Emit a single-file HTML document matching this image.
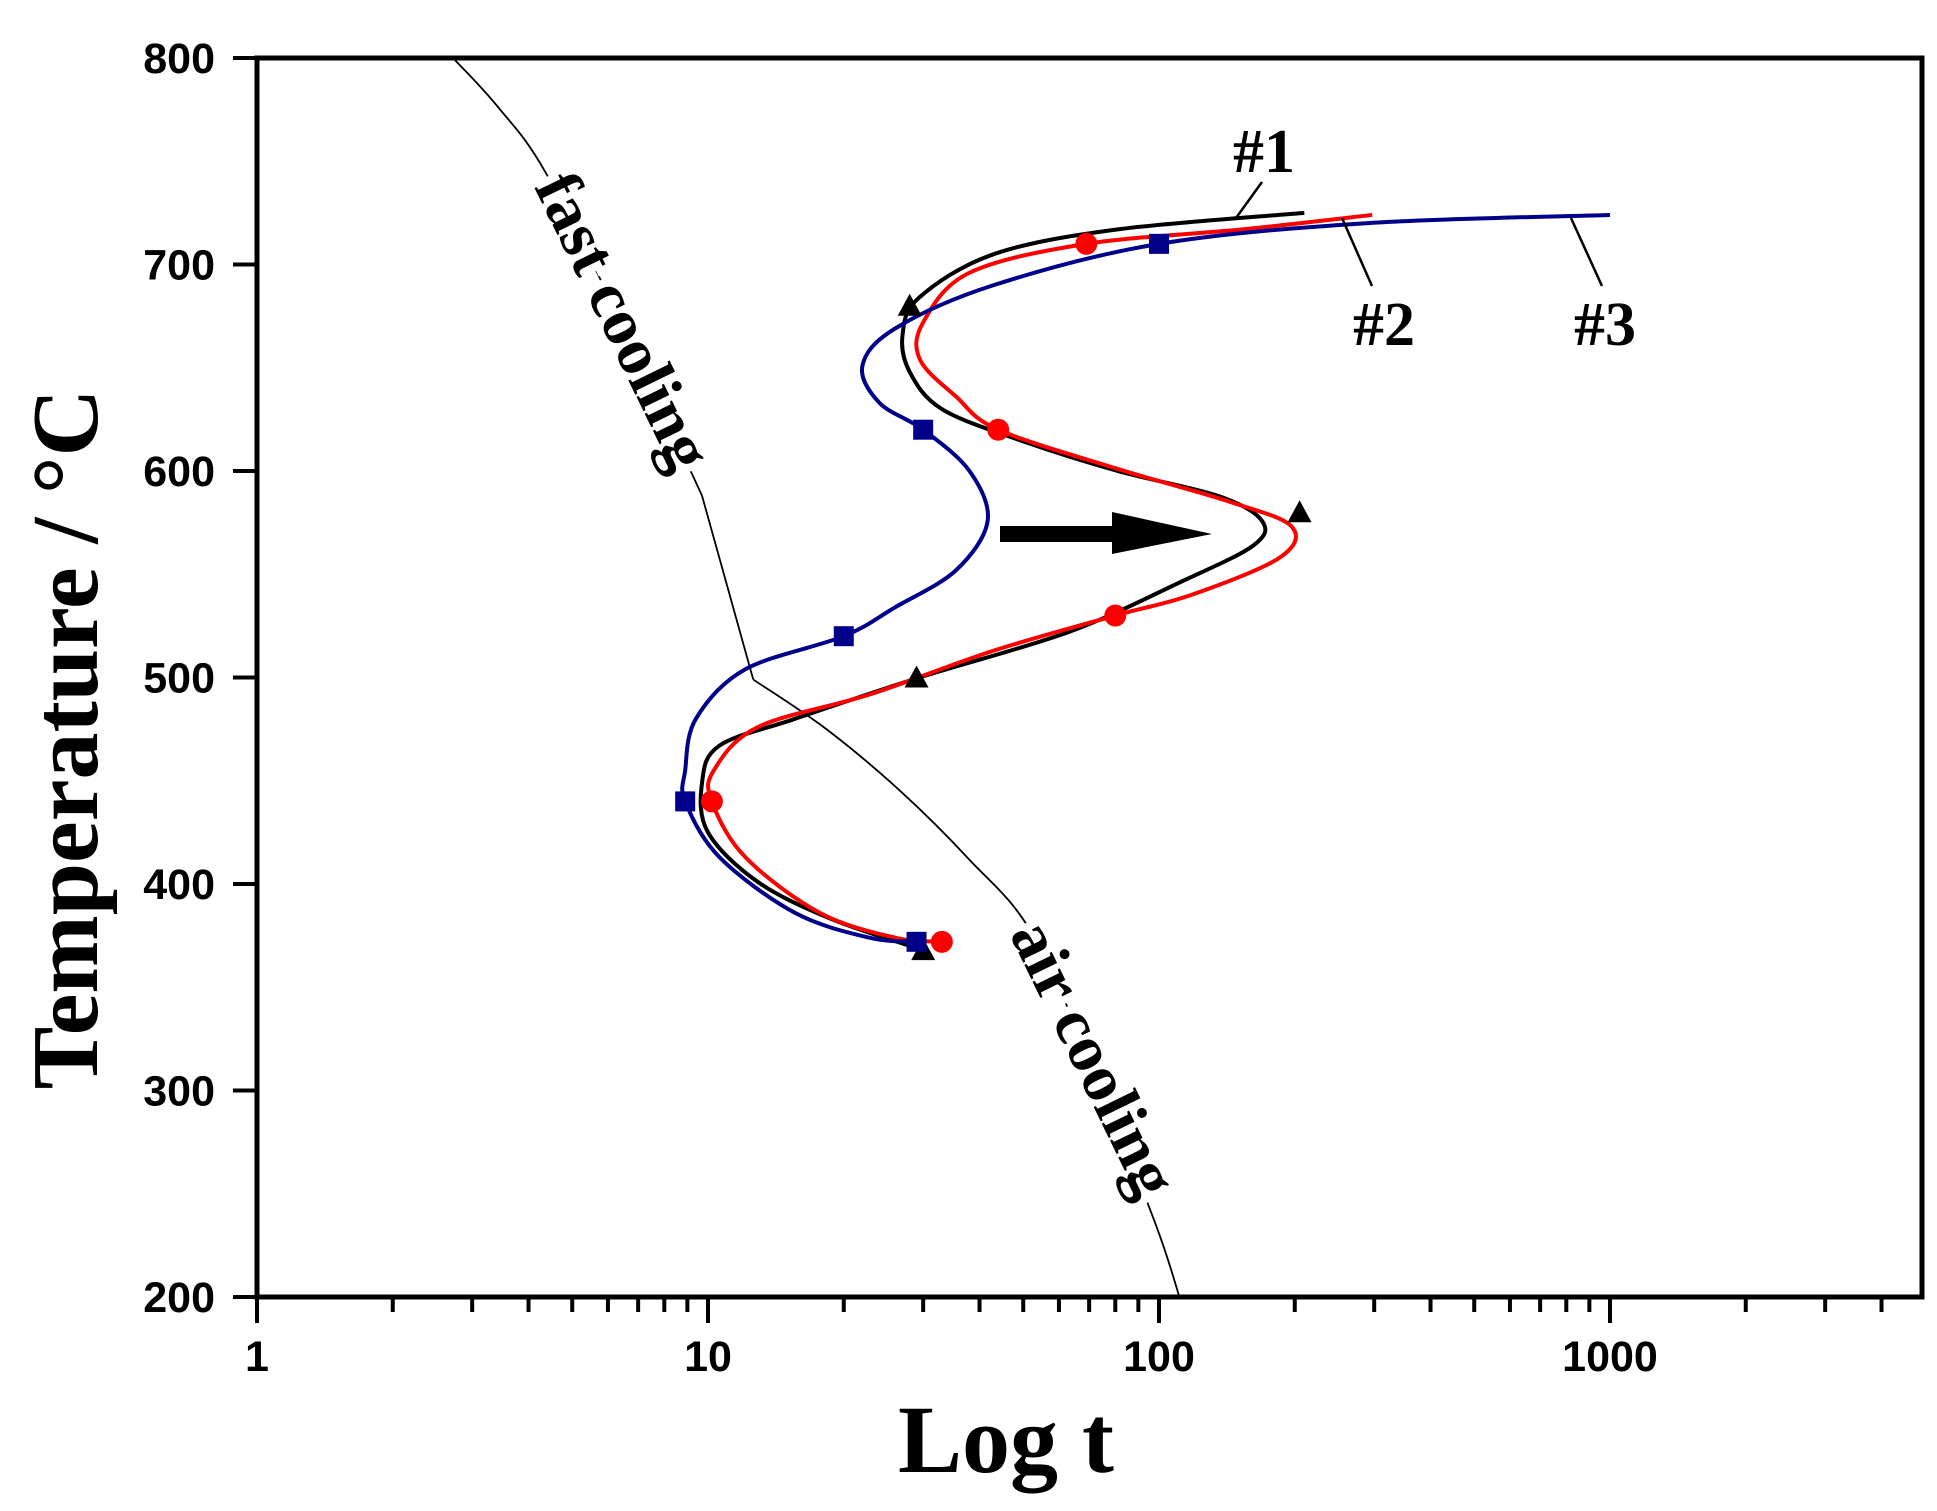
<!DOCTYPE html>
<html><head><meta charset="utf-8">
<style>
html,body{margin:0;padding:0;background:#fff;}
svg{display:block;}
.tick{font-family:"Liberation Sans",Arial,sans-serif;font-weight:bold;font-size:43px;fill:#000;}
.serif{font-family:"Liberation Serif","Times New Roman",serif;font-weight:bold;fill:#000;}
</style></head>
<body>
<svg id="chart" width="1937" height="1511" viewBox="0 0 1937 1511"></svg>
<script>
const xTickValues=[1,10,100,1000];
const xTickLabels=["1","10","100","1000"];
const yTickValues=[200,300,400,500,600,700,800];
const yTickLabels=["200","300","400","500","600","700","800"];
// series #1 (black)
const s1T=[210,81,43,29.4,27,28,33,49,81,135,169,162,111,63,29.4,15.6,10.6,9.7,10,12.9,18.8,30];
const s1Y=[725,717,705,684,666,648,630,615,600,588,576,564,546,522,500,480,467,449,425,401,383,368];
const m1T=[28,205,29,30];
const m1Y=[680,580,500,368];
// series #2 (red)
const s2T=[297,153,69,38,30,29.5,35.5,44,81,144,197,185,118,80,43,23,12.9,10.3,10.2,12.1,17.7,26,33];
const s2Y=[724,717,710,696,672,654,636,620,601,585,573,558,540,530,513,492,476,455,440,413,386,374,372];
const m2T=[69,44,80,10.2,33];
const m2Y=[710,620,530,440,372];
// series #3 (blue)
const s3T=[1000,288,100,43,26,22,24,30,38,41.7,35.5,26,20,12.1,9.4,8.9,8.9,10.6,15.6,22.8,29];
const s3Y=[724,720,710,690,669,651,633,620,600,576,552,534,520,504,480,455,440,413,386,374,372];
const m3T=[100,30,20,8.9,29];
const m3Y=[710,620,520,440,372];
// cooling curve (upper smooth part, straight kink segment, lower smooth part)
const cAT=[2.72,3.40,4.38,6.62,9.7];
const cAY=[800,777,744,666,588];
const cBT=[9.7,12.6];
const cBY=[588,499];
const cCT=[12.6,18.3,26.7,37.9,52,71.4,98,111];
const cCY=[499,475,445,412,377,311,236,200];

const X0=257,DEC=451,Y0=58,YS=2.065,XR=1922,YB=1297;
const xs=t=>X0+DEC*Math.log10(t);
const ys=T=>Y0+(800-T)*YS;
const NS="http://www.w3.org/2000/svg";
const svg=document.getElementById('chart');
function mk(tag,attrs,parent){const e=document.createElementNS(NS,tag);for(const k in attrs)e.setAttribute(k,attrs[k]);(parent||svg).appendChild(e);return e;}
function smooth(px,py){
  let d=`M${px[0]},${py[0]}`;
  for(let i=0;i<px.length-1;i++){
    const p0=[px[Math.max(i-1,0)],py[Math.max(i-1,0)]],p1=[px[i],py[i]],p2=[px[i+1],py[i+1]],p3=[px[Math.min(i+2,px.length-1)],py[Math.min(i+2,px.length-1)]];
    const c1=[p1[0]+(p2[0]-p0[0])/6,p1[1]+(p2[1]-p0[1])/6];
    const c2=[p2[0]-(p3[0]-p1[0])/6,p2[1]-(p3[1]-p1[1])/6];
    d+=` C${c1[0]},${c1[1]} ${c2[0]},${c2[1]} ${p2[0]},${p2[1]}`;
  }
  return d;
}

// cooling curve
[[cAT,cAY],[cBT,cBY],[cCT,cCY]].forEach(([T,Y])=>{
  const cool=mk('path',{d:smooth(T.map(xs),Y.map(ys)),fill:'none',stroke:'#000','stroke-width':1.8});
  
  
});

// labels along cooling curve
const fc=mk('text',{class:'serif','font-size':66,dy:'0.3em',transform:`translate(${xs(4.5)},${ys(742)}) rotate(64)`,stroke:'#fff','stroke-width':16,'paint-order':'stroke'});
fc.textContent='fast cooling';


const ac=mk('text',{class:'serif','font-size':66,dy:'0.3em',transform:`translate(${xs(51)},${ys(380)}) rotate(64)`,stroke:'#fff','stroke-width':16,'paint-order':'stroke'});
ac.textContent='air cooling';



// series
const series=[[s1T,s1Y,'#000','series-1-curve'],[s2T,s2Y,'#ff0000','series-2-curve'],[s3T,s3Y,'#00008b','series-3-curve']];
series.forEach(([T,Y,c,n])=>{
  const p=mk('path',{d:smooth(T.map(xs),Y.map(ys)),fill:'none',stroke:c,'stroke-width':4});
  
  
});
// markers
m1T.forEach((t,i)=>{const x=xs(t),y=ys(m1Y[i]);
  const m=mk('polygon',{points:`${x},${y-12} ${x-12},${y+10} ${x+12},${y+10}`,fill:'#000'});
  
  });
m2T.forEach((t,i)=>{
  const m=mk('circle',{cx:xs(t),cy:ys(m2Y[i]),r:11,fill:'#ff0000'});
  
  });
m3T.forEach((t,i)=>{
  const m=mk('rect',{x:xs(t)-10,y:ys(m3Y[i])-10,width:20,height:20,fill:'#00008b'});
  
  });

// arrow
const ar=mk('g',{});


mk('rect',{x:1000,y:526,width:120,height:16,fill:'#000'},ar);
mk('polygon',{points:'1112,512 1212,534 1112,554',fill:'#000'},ar);

// curve labels with leaders
[['#1',1264,172,1262,182,1236,218],['#2',1384,345,1342,218,1372,286],['#3',1605,345,1571,218,1602,286]].forEach(([t,x,y,x1,y1,x2,y2],i)=>{
  const l=mk('line',{x1,y1,x2,y2,stroke:'#000','stroke-width':2.5});
  
  
  const tx=mk('text',{class:'serif','font-size':62,x,y,'text-anchor':'middle'});
  tx.textContent=t;
  
  
});

// axes frame
const fr=mk('rect',{x:X0,y:Y0,width:XR-X0,height:YB-Y0,fill:'none',stroke:'#000','stroke-width':5});



// x ticks
for(let d=0;d<4;d++){for(let k=1;k<10;k++){const v=Math.pow(10,d)*k;const x=xs(v);if(x>XR+1)continue;
  const tk=mk('line',{x1:x,y1:YB,x2:x,y2:YB+(k===1?26:15),stroke:'#000','stroke-width':4});
  
  }}
xTickValues.forEach((v,i)=>{
  const t=mk('text',{class:'tick',x:xs(v),y:YB+74,'text-anchor':'middle'});
  t.textContent=xTickLabels[i];
  
  });
yTickValues.forEach((v,i)=>{
  const y=ys(v);
  const tk=mk('line',{x1:X0-24,y1:y,x2:X0,y2:y,stroke:'#000','stroke-width':4});
  
  
  const t=mk('text',{class:'tick',x:X0-42,y:y+15,'text-anchor':'end'});
  t.textContent=yTickLabels[i];
  
  });

const xt=mk('text',{class:'serif','font-size':96,x:1006,y:1472,'text-anchor':'middle'});
xt.textContent='Log t';


const yt=mk('text',{class:'serif','font-size':94,transform:'translate(97,739) rotate(-90)','text-anchor':'middle'});
yt.textContent='Temperature / °C';


</script>
</body></html>
